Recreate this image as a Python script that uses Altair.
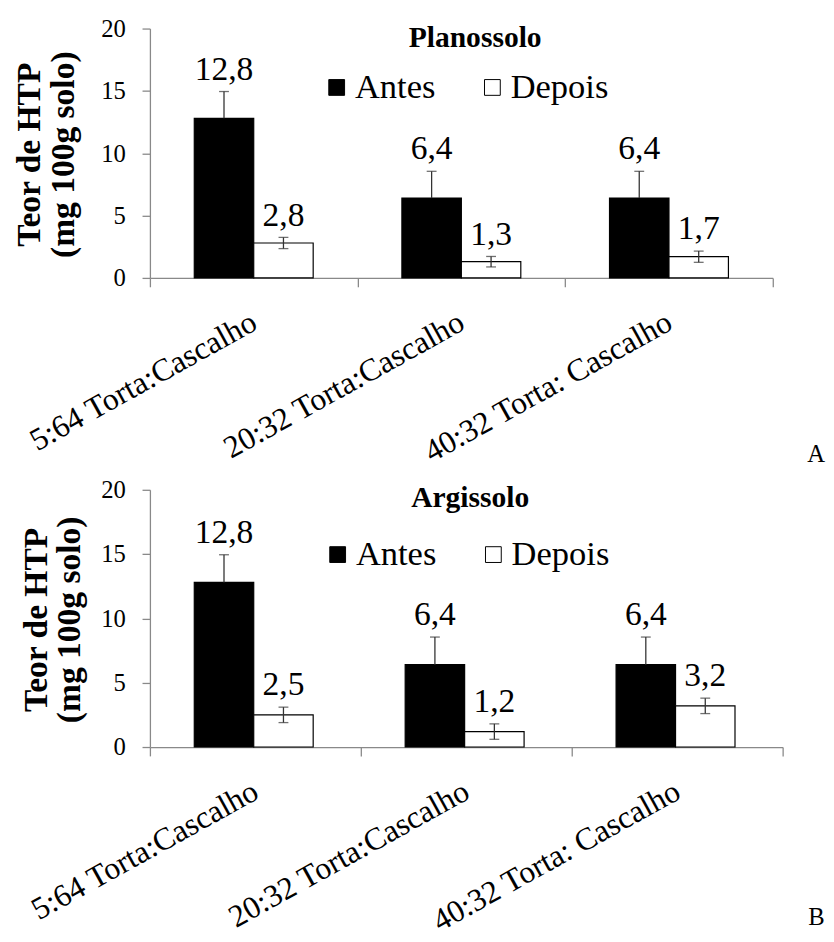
import altair as alt
import pandas as pd

FONT = "Liberation Serif, Times New Roman, serif"

categories = ["5:64 Torta:Cascalho", "20:32 Torta:Cascalho", "40:32 Torta: Cascalho"]
series = ["Antes", "Depois"]

# Panel A - Planossolo
plan_antes = [12.8, 6.4, 6.4]
plan_antes_err = [2.15, 2.15, 2.15]
plan_depois = [2.8, 1.3, 1.7]
plan_depois_err = [0.45, 0.42, 0.45]

# Panel B - Argissolo
arg_antes = [12.8, 6.4, 6.4]
arg_antes_err = [2.15, 2.15, 2.15]
arg_depois = [2.5, 1.2, 3.2]
arg_depois_err = [0.6, 0.6, 0.6]

y_ticks = [0, 5, 10, 15, 20]
y_title = ["Teor de HTP", "(mg 100g solo)"]

GREY = "#898989"


def fmt(v):
    return f"{v:.1f}".replace(".", ",")


def build_df(antes, antes_err, depois, depois_err):
    rows = []
    for i, c in enumerate(categories):
        for s, vals, errs in (("Antes", antes, antes_err), ("Depois", depois, depois_err)):
            rows.append(dict(cat=c, serie=s, v=vals[i], lo=vals[i] - errs[i],
                             hi=vals[i] + errs[i], lab=fmt(vals[i])))
    return pd.DataFrame(rows)


def panel(title, letter, antes, antes_err, depois, depois_err, w, h,
          title_xy, legend_xy, letter_xy, title_pad):
    df = build_df(antes, antes_err, depois, depois_err)
    x = alt.X("cat:N", sort=categories,
              scale=alt.Scale(paddingInner=0, paddingOuter=0),
              axis=alt.Axis(title=None, labelAngle=331, labelAlign="right",
                            labelBaseline="middle", tickBand="extent",
                            labelPadding=33, tickSize=9, labelFontSize=32,
                            labelLimit=0))
    xo = alt.XOffset("serie:N", sort=series,
                     scale=alt.Scale(paddingInner=0, paddingOuter=0.746))
    y_axis = alt.Axis(values=y_ticks, title=y_title, grid=False, tickSize=8,
                      labelPadding=17, labelFontSize=25, titlePadding=title_pad,
                      titleFontSize=34, titleFontWeight="bold", titleLineHeight=34,
                      titleY=h / 2 + 1)
    base = alt.Chart(df)
    bars = base.mark_bar(stroke="black", strokeWidth=1.2).encode(
        x=x, xOffset=xo,
        y=alt.Y("v:Q", scale=alt.Scale(domain=[0, 20]), axis=y_axis),
        fill=alt.Fill("serie:N", sort=series,
                      scale=alt.Scale(domain=series, range=["black", "white"]),
                      legend=alt.Legend(title=None, orient="none",
                                        legendX=legend_xy[0], legendY=legend_xy[1],
                                        direction="horizontal", symbolType="square",
                                        symbolSize=256, symbolStrokeColor="black",
                                        symbolStrokeWidth=1, labelFont=FONT,
                                        labelFontSize=35, labelOffset=1,
                                        columnPadding=40, labelLimit=0)),
    )
    # Antes: only the upper whisker shows above the black bar
    err_up = base.mark_rule(color="#333333", strokeWidth=1.3).encode(
        x=x, xOffset=xo, y="v:Q", y2="hi:Q")
    err_lo = base.transform_filter(alt.datum.serie == "Depois").mark_rule(
        color="#333333", strokeWidth=1.3).encode(x=x, xOffset=xo, y="lo:Q", y2="v:Q")
    cap_hi = base.mark_tick(orient="horizontal", size=10, thickness=1.3,
                            color="#333333").encode(x=x, xOffset=xo, y="hi:Q")
    cap_lo = base.transform_filter(alt.datum.serie == "Depois").mark_tick(
        orient="horizontal", size=10, thickness=1.3,
        color="#333333").encode(x=x, xOffset=xo, y="lo:Q")
    labels = base.mark_text(font=FONT, fontSize=34, baseline="alphabetic",
                            dy=-12, color="black").encode(
        x=x, xOffset=xo, y="hi:Q", text="lab:N")
    ttl = alt.Chart(pd.DataFrame({"t": [title]})).mark_text(
        font=FONT, fontSize=30, fontWeight="bold", baseline="alphabetic",
        align="center", color="black").encode(
        text="t:N", x=alt.value(title_xy[0]), y=alt.value(title_xy[1]))
    let = alt.Chart(pd.DataFrame({"t": [letter]})).mark_text(
        font=FONT, fontSize=25, baseline="alphabetic", align="left",
        color="black").encode(
        text="t:N", x=alt.value(letter_xy[0]), y=alt.value(letter_xy[1]))
    return alt.layer(bars, err_up, err_lo, cap_hi, cap_lo, labels, ttl, let).properties(
        width=w, height=h)


top = panel("Planossolo", "A", plan_antes, plan_antes_err, plan_depois,
            plan_depois_err, 632, 253, (330, 19), (172, 42), (667, 440), 21)
bottom = panel("Argissolo", "B", arg_antes, arg_antes_err, arg_depois,
               arg_depois_err, 642, 261, (325, 17), (173, 48), (668, 442), 14)

chart = alt.concat(top, bottom, columns=1, spacing=10).resolve_scale(
    fill="independent").resolve_legend(fill="independent").properties(
    padding={"left": 5, "top": 2, "right": 0, "bottom": 0}
).configure_view(stroke=None).configure_axis(
    labelFont=FONT, titleFont=FONT, labelColor="black", titleColor="black",
    domainColor=GREY, tickColor=GREY, domainWidth=1.3, tickWidth=1.3,
)

chart.save("out.html", embed_options={"renderer": "svg", "actions": False})
